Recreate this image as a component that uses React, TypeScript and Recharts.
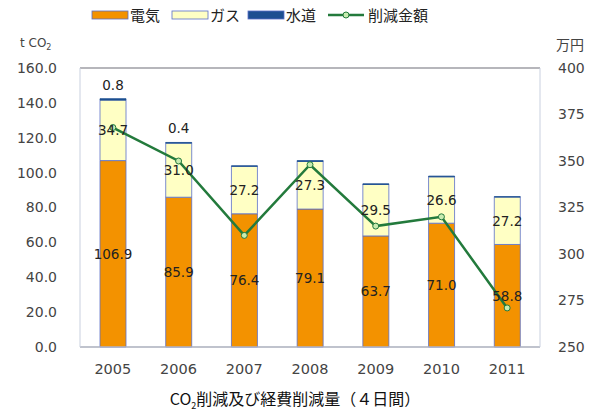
import {
  ComposedChart,
  Bar,
  Line,
  LabelList,
  XAxis,
  YAxis,
  CartesianGrid,
} from 'recharts'

// ---------------------------------------------------------------------------
// Data
// ---------------------------------------------------------------------------

const YEARS = ['2005', '2006', '2007', '2008', '2009', '2010', '2011']
const ELECTRIC = [106.9, 85.9, 76.4, 79.1, 63.7, 71.0, 58.8]
const GAS = [34.7, 31.0, 27.2, 27.3, 29.5, 26.6, 27.2]
const WATER = [0.8, 0.4, 0.3, 0.5, 0.4, 0.4, 0.2]
// only the first two water values carry a printed label
const WATER_LABELS = ['0.8', '0.4', '', '', '', '', '']
const SAVINGS = [368, 350, 310, 348, 315, 320, 271]

const LEFT_TICKS = [0, 20, 40, 60, 80, 100, 120, 140, 160]
const RIGHT_TICKS = [250, 275, 300, 325, 350, 375, 400]

const ORANGE = '#f39200'
const YELLOW = '#ffffc4'
const NAVY = '#1d4f91'
const GREEN = '#237a3c'
const OUTLINE = '#5b6fc8'
const FONT = '"DejaVu Sans", "Noto Sans CJK JP", sans-serif'
const CJK = '"Noto Sans CJK JP", sans-serif'
const TICK_COLOR = '#444'

const data = YEARS.map((year, i) => ({
  year,
  electric: ELECTRIC[i],
  gas: GAS[i],
  water: WATER[i],
  savings: SAVINGS[i],
}))

const labelStyle = { fontSize: 13.5, fill: '#222', fontFamily: FONT }

function WaterLabel(props: any) {
  const { x, y, width, index } = props
  const text = WATER_LABELS[index]
  if (!text) return null
  return (
    <text x={x + width / 2} y={y - 9} textAnchor="middle" fontSize={13.5} fill="#222" fontFamily={FONT}>
      {text}
    </text>
  )
}

function LegendRow() {
  const items = [
    { x: 92, label: '電気', fill: ORANGE },
    { x: 172, label: 'ガス', fill: YELLOW },
    { x: 248, label: '水道', fill: NAVY },
  ]
  return (
    <svg width={590} height={30} style={{ position: 'absolute', left: 0, top: 0 }}>
      {items.map((it) => (
        <g key={it.label}>
          <rect x={it.x} y={11} width={36} height={8} fill={it.fill} stroke={OUTLINE} strokeWidth={0.8} />
          <text x={it.x + 38} y={20.5} fontSize={15} fill="#222" fontFamily={CJK}>
            {it.label}
          </text>
        </g>
      ))}
      <line x1={328} y1={15} x2={364} y2={15} stroke={GREEN} strokeWidth={2.5} />
      <circle cx={346} cy={15} r={3} fill="#c8ecb0" stroke={GREEN} strokeWidth={1} />
      <text x={368} y={20.5} fontSize={15} fill="#222" fontFamily={CJK}>
        削減金額
      </text>
    </svg>
  )
}

export default function App() {
  return (
    <div style={{ position: 'absolute', left: 0, top: 0, width: 590, height: 414, background: '#fff', fontFamily: FONT }}>
      <LegendRow />
      <div style={{ position: 'absolute', left: 20, top: 36, fontSize: 12, color: TICK_COLOR }}>
        t CO<sub style={{ fontSize: 8 }}>2</sub>
      </div>
      <div style={{ position: 'absolute', left: 556, top: 34, fontSize: 14, color: TICK_COLOR, fontFamily: CJK }}>万円</div>
      <div style={{ position: 'absolute', left: 0, top: 0 }}>
        <ComposedChart
          width={590}
          height={385}
          data={data}
          margin={{ top: 68, right: 0, bottom: 0, left: 0 }}
          barSize={26}
        >
          <CartesianGrid vertical={false} stroke="#6e6e78" strokeWidth={1.2} />
          <XAxis
            dataKey="year"
            height={38}
            tickSize={0}
            tickMargin={17}
            axisLine={{ stroke: '#c9d0df' }}
            tick={{ fontSize: 14.5, fill: TICK_COLOR, fontFamily: FONT }}
          />
          <YAxis
            yAxisId="left"
            width={80}
            domain={[0, 160]}
            ticks={LEFT_TICKS}
            interval={0}
            tickFormatter={(v: number) => v.toFixed(1)}
            tickSize={0}
            tickMargin={23}
            axisLine={{ stroke: '#c9d0df' }}
            tick={{ fontSize: 14, fill: TICK_COLOR, fontFamily: FONT }}
          />
          <YAxis
            yAxisId="right"
            orientation="right"
            width={50}
            domain={[250, 400]}
            ticks={RIGHT_TICKS}
            interval={0}
            tickSize={0}
            tickMargin={18}
            axisLine={{ stroke: '#c9d0df' }}
            tick={{ fontSize: 14, fill: TICK_COLOR, fontFamily: FONT }}
          />
          <Bar yAxisId="left" dataKey="electric" stackId="a" fill={ORANGE} stroke={OUTLINE} strokeWidth={0.8} isAnimationActive={false}>
            <LabelList dataKey="electric" position="center" formatter={(v: any) => Number(v).toFixed(1)} style={labelStyle} />
          </Bar>
          <Bar yAxisId="left" dataKey="gas" stackId="a" fill={YELLOW} stroke={OUTLINE} strokeWidth={0.8} isAnimationActive={false}>
            <LabelList dataKey="gas" position="center" formatter={(v: any) => Number(v).toFixed(1)} style={labelStyle} />
          </Bar>
          <Bar yAxisId="left" dataKey="water" stackId="a" fill={NAVY} stroke={NAVY} strokeWidth={0.8} isAnimationActive={false}>
            <LabelList dataKey="water" content={<WaterLabel />} />
          </Bar>
          <Line
            yAxisId="right"
            dataKey="savings"
            stroke={GREEN}
            strokeWidth={2.5}
            dot={{ r: 3, fill: '#c8ecb0', stroke: GREEN, strokeWidth: 1 }}
            isAnimationActive={false}
          />
        </ComposedChart>
      </div>
      <div style={{ position: 'absolute', left: 0, top: 386, width: 590, textAlign: 'center', fontSize: 16, color: '#111', fontFamily: CJK }}>
        CO<sub style={{ fontSize: 9 }}>2</sub>削減及び経費削減量（４日間）
      </div>
    </div>
  )
}
